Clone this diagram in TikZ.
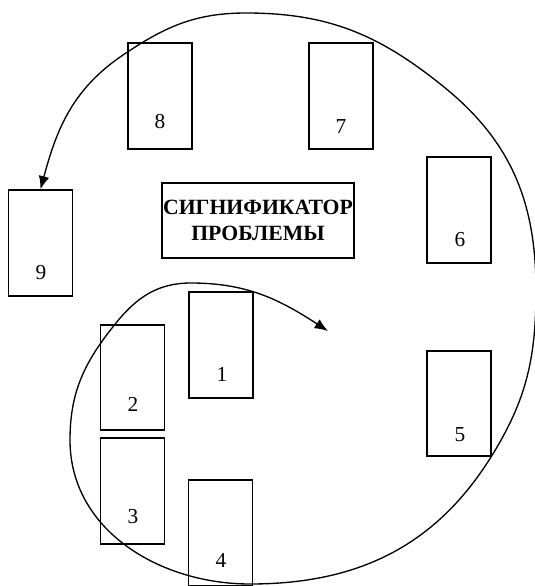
\documentclass[tikz,border=0pt]{standalone}
\usepackage{fontspec}
\setmainfont{Liberation Serif}
\usetikzlibrary{arrows.meta}
\begin{document}
\begin{tikzpicture}[x=0.75pt,y=-0.75pt,
  card/.style={draw,line width=1.4pt,minimum width=48pt,minimum height=79pt,inner sep=0pt},
  centerbox/.style={draw,line width=1.4pt,minimum width=144pt,minimum height=56pt,inner sep=0pt,align=center,font=\fontsize{16.3}{20}\selectfont\bfseries},
  num/.style={font=\fontsize{16}{18}\selectfont},
  spiral/.style={line width=1pt,{Latex[length=10pt,width=8pt]}-{Latex[length=10pt,width=8pt]}}]
\useasboundingbox (0,0) rectangle (535,586);
\node[card] (b8) at (160,96) {};
\node[card] (b7) at (341,96) {};
\node[card] (b6) at (459,210) {};
\node[card] (b9) at (40.5,243) {};
\node[centerbox] (c) at (258,220.5) {СИГНИФИКАТОР\\ПРОБЛЕМЫ};
\node[card] (b1) at (221,345) {};
\node[card] (b2) at (132.5,377.5) {};
\node[card] (b3) at (132.5,491) {};
\node[card] (b4) at (220.5,533) {};
\node[card] (b5) at (459,403.5) {};
\node[num] (n8) at (160,122) {8};
\node[num] (n7) at (341,127) {7};
\node[num] (n6) at (460,240) {6};
\node[num] (n9) at (41,273) {9};
\node[num] (n1) at (222,374) {1};
\node[num] (n2) at (133,404) {2};
\node[num] (n3) at (133,517) {3};
\node[num] (n4) at (221,560) {4};
\node[num] (n5) at (460,435) {5};
\coordinate (s) at (328,331);
\begin{scope}
\clip (0,0) rectangle (535,586);
\draw[spiral] (s) to[out=147,in=0] (191,283) to[out=180,in=51] (116,323)
  to[out=231,in=90] (70,440)
  to[out=-90,in=180] (250,584) to[out=0,in=238] (491,457)
  to[out=58,in=-90] (536,290) to[out=90,in=-39] (444,87)
  to[out=141,in=0] (246,13)
  to[out=180,in=34] (123,55) to[out=214,in=75] (b9.north);
\end{scope}
\end{tikzpicture}
\end{document}
